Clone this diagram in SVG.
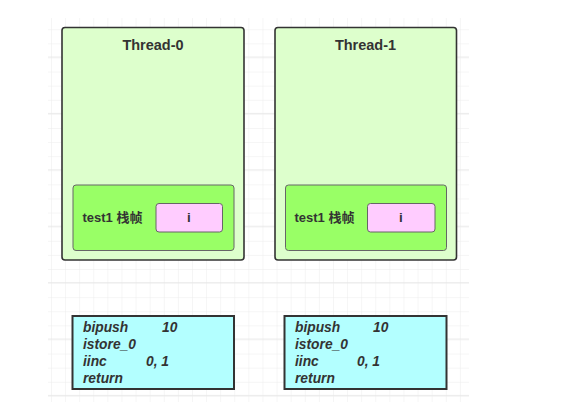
<svg xmlns="http://www.w3.org/2000/svg" width="561" height="406" viewBox="0 0 561 406">
<defs>
<pattern id="g" patternUnits="userSpaceOnUse" x="51" y="29.3" width="14.1" height="14.1">
<path d="M0 0V14.1M0 0H14.1" fill="none" stroke="#ececec" stroke-width="1"/>
</pattern>
<pattern id="g4" patternUnits="userSpaceOnUse" x="51" y="1.1" width="56.4" height="56.4">
<path d="M0 56.2H56.4" fill="none" stroke="#e6e6e6" stroke-width="1"/>
</pattern>
<style>
.thread{fill:#ddffcc;stroke:#333;stroke-width:1.6}
.frame{fill:#99ff66;stroke:#666;stroke-width:1}
.var{fill:#ffccff;stroke:#666;stroke-width:1}
.code{fill:#b3ffff;stroke:#333;stroke-width:2}
text{font-family:"Liberation Sans","Noto Sans CJK SC",sans-serif;fill:#333;font-weight:bold}
.title{font-size:14.5px;text-anchor:middle}
.lbl{font-size:13px}
.v{font-size:13.5px;text-anchor:middle}
.bc{font-size:13.8px;font-style:italic}
</style>
</defs>
<rect x="0" y="0" width="561" height="406" fill="#fff"/>
<rect x="48" y="18" width="421" height="384" fill="url(#g)"/>
<rect x="48" y="18" width="421" height="384" fill="url(#g4)"/>
<g id="connectors"></g>
<g id="thread0">
<rect class="thread" x="62" y="27.5" width="182" height="232.5" rx="3"/>
<text class="title" x="153" y="50">Thread-0</text>
</g>
<g id="frame0">
<rect class="frame" x="73" y="185" width="161" height="65.5" rx="3"/>
<text class="lbl" x="82.5" y="222">test1 栈帧</text>
</g>
<g id="var0">
<rect class="var" x="156" y="203.5" width="66.5" height="28.5" rx="3"/>
<text class="v" x="189" y="222">i</text>
</g>
<g id="thread1">
<rect class="thread" x="275" y="27.5" width="181.5" height="232.5" rx="3"/>
<text class="title" x="365.5" y="50">Thread-1</text>
</g>
<g id="frame1">
<rect class="frame" x="285.5" y="185" width="161" height="65.5" rx="3"/>
<text class="lbl" x="294.5" y="222">test1 栈帧</text>
</g>
<g id="var1">
<rect class="var" x="367.5" y="203.5" width="67.5" height="28.5" rx="3"/>
<text class="v" x="401" y="222">i</text>
</g>
<g id="code0">
<rect class="code" x="72.5" y="316" width="161.5" height="73"/>
<text class="bc" x="83" y="332">bipush</text>
<text class="bc" x="162" y="332">10</text>
<text class="bc" x="83" y="349">istore_0</text>
<text class="bc" x="83" y="366">iinc</text>
<text class="bc" x="146" y="366">0, 1</text>
<text class="bc" x="83" y="383">return</text>
</g>
<g id="code1">
<rect class="code" x="284.5" y="316" width="162" height="73"/>
<text class="bc" x="295" y="332">bipush</text>
<text class="bc" x="373" y="332">10</text>
<text class="bc" x="295" y="349">istore_0</text>
<text class="bc" x="295" y="366">iinc</text>
<text class="bc" x="357" y="366">0, 1</text>
<text class="bc" x="295" y="383">return</text>
</g>
</svg>
